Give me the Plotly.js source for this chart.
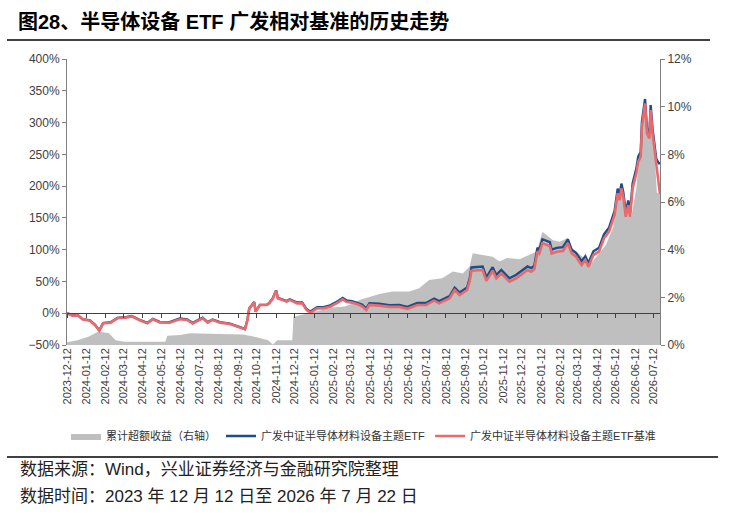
<!DOCTYPE html>
<html>
<head>
<meta charset="utf-8">
<script src="https://cdn.plot.ly/plotly-3.0.1.min.js"></script>
<style>
  html, body { margin: 0; padding: 0; background: #fff; }
  #chart { width: 733px; height: 518px; }
</style>
</head>
<body>
<div id="chart"></div>
<script>
// 半导体设备 ETF 广发 vs 基准
const lineDates = [
  '2023-12-12', '2023-12-21', '2023-12-29', '2024-01-06', '2024-01-18', '2024-01-26', '2024-02-02', '2024-02-08',
  '2024-02-20', '2024-03-02', '2024-03-17', '2024-03-25', '2024-04-06', '2024-04-19', '2024-04-28', '2024-05-09',
  '2024-05-25', '2024-06-10', '2024-06-22', '2024-07-01', '2024-07-17', '2024-07-25', '2024-08-02', '2024-08-14',
  '2024-08-30', '2024-09-16', '2024-09-23', '2024-09-27', '2024-09-30', '2024-10-08', '2024-10-10', '2024-10-17',
  '2024-10-28', '2024-11-01', '2024-11-07', '2024-11-12', '2024-11-15', '2024-11-22', '2024-11-29', '2024-12-04',
  '2024-12-16', '2024-12-24', '2024-12-31', '2025-01-06', '2025-01-17', '2025-01-27', '2025-02-07', '2025-02-19',
  '2025-02-27', '2025-03-05', '2025-03-14', '2025-03-26', '2025-03-30', '2025-04-06', '2025-04-11', '2025-04-27',
  '2025-05-13', '2025-05-29', '2025-06-11', '2025-06-27', '2025-07-11', '2025-07-24', '2025-08-01', '2025-08-18',
  '2025-08-26', '2025-09-03', '2025-09-15', '2025-09-19', '2025-09-22', '2025-10-10', '2025-10-16', '2025-10-26',
  '2025-11-01', '2025-11-09', '2025-11-22', '2025-12-03', '2025-12-13', '2025-12-21', '2025-12-27', '2026-01-01',
  '2026-01-06', '2026-01-09', '2026-01-14', '2026-01-26', '2026-01-29', '2026-02-06', '2026-02-16', '2026-02-24',
  '2026-03-02', '2026-03-09', '2026-03-18', '2026-03-24', '2026-03-29', '2026-04-06', '2026-04-15', '2026-04-23',
  '2026-05-01', '2026-05-06', '2026-05-10', '2026-05-15', '2026-05-18', '2026-05-21', '2026-05-24', '2026-05-28',
  '2026-06-01', '2026-06-04', '2026-06-08', '2026-06-14', '2026-06-17', '2026-06-21', '2026-06-23', '2026-06-28',
  '2026-07-01', '2026-07-05', '2026-07-07', '2026-07-10', '2026-07-16', '2026-07-20', '2026-07-22',
];

// 广发中证半导体材料设备主题ETF (%)
const etfValues = [
  0, -3.5, -2.7, -9.2, -11.3, -18.1, -27, -15.4,
  -14.2, -7.4, -5.9, -4.4, -10, -15.3, -9, -13.7,
  -14, -8.4, -9.6, -15.2, -7.2, -14, -9.8, -14,
  -16.3, -21.5, -24.8, -10.2, 8, 17.5, 2.6, 13.2,
  13.3, 16, 24, 36, 24, 21.6, 19, 21.8,
  16.8, 17, 6.5, 2.5, 9.5, 9.6, 12.3, 18.9,
  24.2, 20.3, 19.1, 15.3, 13.5, 7.5, 15.6, 14.8,
  12.8, 12.9, 10, 16, 16.1, 23, 19, 27,
  40.3, 32.6, 40.6, 54, 72, 73.5, 56.3, 72.4,
  60.3, 68.2, 55, 60.4, 68.3, 73.6, 71, 74.8,
  103, 100.2, 116.4, 112, 100, 102.8, 104, 116.2,
  100, 95, 81.8, 89.6, 79, 97.5, 102.8, 124,
  134.4, 147.5, 161, 196, 185, 204, 190.5, 159,
  177.5, 159, 204, 228, 246.5, 254, 302, 337,
  291, 283, 327.5, 290.5, 243, 236, 236,
];

// 广发中证半导体材料设备主题ETF基准 (%)
const benchValues = [
  0, -3.9, -3, -9.6, -11.7, -18.5, -27.5, -15.9,
  -14.8, -8, -6.5, -5, -10.6, -16, -9.6, -14.4,
  -14.8, -9.6, -10.5, -16, -8, -14.8, -10.6, -14.8,
  -17, -22.1, -25.3, -10.6, 7.7, 17.2, 2.4, 12.9,
  12.9, 15.5, 23.5, 35.4, 23.5, 20.9, 18.3, 21,
  15.5, 15.5, 5, 0.8, 7.7, 7.7, 10.3, 16.7,
  21.9, 18, 16.7, 12.9, 11, 5, 13, 12,
  10, 10, 7, 12.9, 12.9, 19.7, 15.6, 23.5,
  36.5, 28.7, 36.5, 49.6, 67, 68, 51, 67,
  55, 62.8, 49.6, 55, 62.8, 68, 65.3, 69,
  96.8, 94, 110, 105.8, 94, 96.8, 98, 110,
  94, 89, 75.9, 83.7, 73.2, 91.6, 96.8, 117.9,
  128, 141, 154.5, 188.7, 178, 196.5, 183, 151.8,
  170, 151.8, 196.5, 220, 238.4, 246, 293.5, 330,
  283, 275, 319.7, 283, 236, 200, 187,
];

// 累计超额收益（右轴）(%)
const excessDates = [
  '2023-12-12', '2023-12-29', '2024-01-15', '2024-01-31', '2024-02-17', '2024-02-28', '2024-03-14', '2024-04-07',
  '2024-05-01', '2024-05-18', '2024-05-21', '2024-06-11', '2024-06-26', '2024-07-12', '2024-08-14', '2024-09-19',
  '2024-10-09', '2024-10-30', '2024-11-07', '2024-11-14', '2024-12-08', '2024-12-10', '2025-01-02', '2025-01-22',
  '2025-02-11', '2025-03-02', '2025-03-17', '2025-03-26', '2025-04-11', '2025-04-27', '2025-05-18', '2025-06-14',
  '2025-06-30', '2025-07-16', '2025-08-06', '2025-08-23', '2025-09-08', '2025-09-19', '2025-09-24', '2025-10-10',
  '2025-10-26', '2025-11-06', '2025-11-18', '2025-12-08', '2026-01-05', '2026-01-14', '2026-01-31', '2026-02-11',
  '2026-02-24', '2026-03-03', '2026-03-24', '2026-04-03', '2026-04-26', '2026-05-08', '2026-05-16', '2026-05-21',
  '2026-05-28', '2026-06-01', '2026-06-06', '2026-06-14', '2026-06-18', '2026-06-21', '2026-06-26', '2026-06-29',
  '2026-07-02', '2026-07-07', '2026-07-12', '2026-07-17', '2026-07-22',
];
const excessValues = [
  0.12, 0.2, 0.35, 0.56, 0.5, 0.2, 0.14, 0.14,
  0.12, 0.14, 0.39, 0.42, 0.49, 0.47, 0.46, 0.44,
  0.35, 0.2, 0.02, 0.2, 0.2, 1.19, 1.33, 1.45,
  1.57, 1.62, 1.75, 1.89, 2.0, 2.14, 2.24, 2.24,
  2.38, 2.73, 2.8, 3.08, 3.0, 3.29, 3.85, 3.78,
  3.7, 3.5, 3.65, 3.6, 3.92, 4.75, 4.4, 4.33,
  4.5, 4.06, 3.6, 3.45, 4.2, 4.96, 6.5, 6.64,
  5.38, 5.8, 5.38, 6.6, 7.62, 7.9, 10.0, 10.28,
  8.74, 10.1, 8.6, 6.4, 6.3,
];

const xRange = ['2023-12-12', '2026-07-22'];
const FONT = '"Liberation Sans", Arial, "Noto Sans CJK SC", sans-serif';
const AXIS_GREY = '#808080';
const TEXT_GREY = '#404040';

const traces = [
  {
    x: excessDates, y: excessValues, xaxis: 'x', yaxis: 'y',
    type: 'scatter', mode: 'lines', fill: 'tozeroy',
    fillcolor: '#BFBFBF', line: { width: 0, color: '#BFBFBF' },
    name: '累计超额收益（右轴）',
  },
  {
    x: lineDates, y: etfValues, xaxis: 'x2', yaxis: 'y2',
    type: 'scatter', mode: 'lines',
    line: { color: '#1D4E89', width: 2.4 },
    name: '广发中证半导体材料设备主题ETF',
  },
  {
    x: lineDates, y: benchValues, xaxis: 'x2', yaxis: 'y2',
    type: 'scatter', mode: 'lines',
    line: { color: '#E96A6D', width: 2.6 },
    name: '广发中证半导体材料设备主题ETF基准',
  },
];

// plot area is 67..660 px wide, 59..345 px tall
const layout = {
  width: 733, height: 518,
  margin: { l: 67, r: 73, t: 59, b: 173 },
  paper_bgcolor: '#ffffff', plot_bgcolor: '#ffffff',
  font: { family: FONT, size: 11, color: TEXT_GREY },
  title: {
    text: '<b>图28、半导体设备 ETF 广发相对基准的历史走势</b>',
    x: 18 / 733, xanchor: 'left', xref: 'container',
    y: 1 - 22 / 518, yanchor: 'middle', yref: 'container',
    font: { family: FONT, size: 20, color: '#000' },
  },
  showlegend: true,
  legend: {
    orientation: 'h', x: 0.5, xanchor: 'center', y: -0.318, yanchor: 'middle',
    font: { size: 11, color: '#333' }, traceorder: 'normal',
    bgcolor: 'rgba(0,0,0,0)',
  },
  hovermode: false,
  xaxis: {
    type: 'date', range: xRange, anchor: 'y',
    tick0: '2023-12-12', dtick: 'M1', tickformat: '%Y-%m-%d',
    tickangle: -90, ticks: '', showgrid: false, zeroline: false, showline: false,
    tickfont: { size: 11, color: TEXT_GREY },
  },
  // the 0% baseline with its month ticks
  xaxis2: {
    type: 'date', range: xRange, overlaying: 'x', anchor: 'free', position: 50 / 450,
    tick0: '2023-12-12', dtick: 'M1', showticklabels: false,
    ticks: 'outside', ticklen: 4, tickcolor: '#404040',
    showline: true, linecolor: '#404040', linewidth: 1,
    showgrid: false, zeroline: false,
  },
  yaxis: {
    range: [0, 12], dtick: 2, side: 'right', anchor: 'x', ticksuffix: '%',
    ticks: 'outside', ticklen: 4, tickcolor: AXIS_GREY,
    showline: true, linecolor: AXIS_GREY, showgrid: false, zeroline: false,
    tickfont: { size: 12, color: TEXT_GREY },
  },
  yaxis2: {
    range: [-50, 400], dtick: 50, side: 'left', overlaying: 'y', anchor: 'x', ticksuffix: '%',
    ticks: 'outside', ticklen: 4, tickcolor: AXIS_GREY,
    showline: true, linecolor: AXIS_GREY, showgrid: false, zeroline: false,
    tickfont: { size: 12, color: TEXT_GREY },
  },
  shapes: [
    { type: 'line', xref: 'paper', yref: 'paper', x0: -0.1012, x1: 1.0843, y0: 1.0664, y1: 1.0664,
      line: { color: '#000', width: 1.5 } },
    { type: 'line', xref: 'paper', yref: 'paper', x0: -0.1012, x1: 1.0978, y0: -0.3916, y1: -0.3916,
      line: { color: '#000', width: 1.5 } },
  ],
  annotations: [
    { xref: 'paper', yref: 'paper', x: -0.0826, y: -0.437, xanchor: 'left', yanchor: 'middle',
      showarrow: false, text: '数据来源：Wind，兴业证券经济与金融研究院整理',
      font: { size: 17, color: '#222' } },
    { xref: 'paper', yref: 'paper', x: -0.0826, y: -0.528, xanchor: 'left', yanchor: 'middle',
      showarrow: false, text: '数据时间：2023 年 12 月 12 日至 2026 年 7 月 22 日',
      font: { size: 17, color: '#222' } },
  ],
};

Plotly.newPlot('chart', traces, layout, { displayModeBar: false, staticPlot: true });
</script>
</body>
</html>
